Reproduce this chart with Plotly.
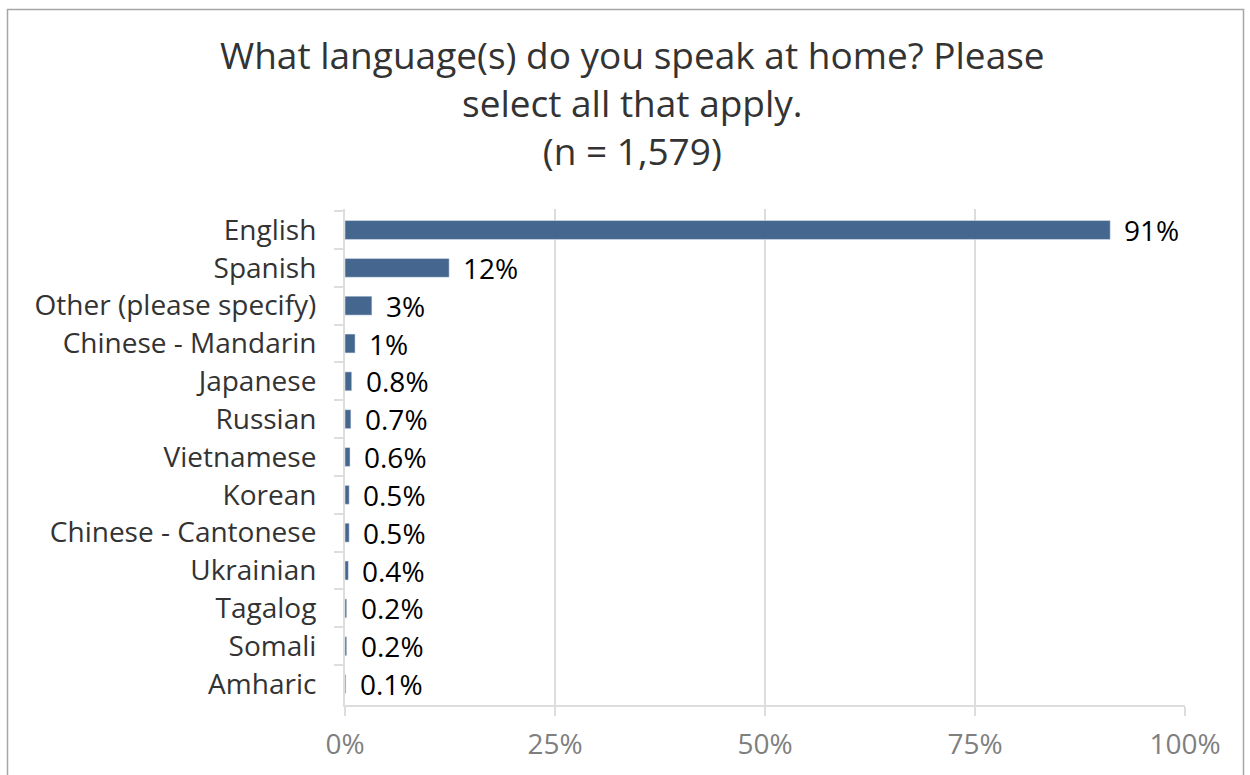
import plotly.graph_objects as go

# Survey results: languages spoken at home (multi-select, share of respondents)
languages = [
    "English", "Spanish", "Other (please specify)", "Chinese - Mandarin",
    "Japanese", "Russian", "Vietnamese", "Korean", "Chinese - Cantonese",
    "Ukrainian", "Tagalog", "Somali", "Amharic",
]
shares = [91.1, 12.4, 3.2, 1.2, 0.8, 0.7, 0.6, 0.5, 0.5, 0.4, 0.2, 0.2, 0.1]
x_ticks = [0, 25, 50, 75, 100]
x_tick_labels = ["0%", "25%", "50%", "75%", "100%"]

title_text = ("What language(s) do you speak at home? Please<br>"
              "select all that apply.<br>(n = 1,579)")

BAR = "#45678F"
GRID = "#DDDDDD"
FONT = "Open Sans"


def fmt(v):
    return f"{v:.0f}%" if v >= 1 else f"{v:.1f}%"


fig = go.Figure(
    go.Bar(
        x=shares,
        y=languages,
        orientation="h",
        marker=dict(color=BAR),
        width=0.5,
        hoverinfo="skip",
    )
)

# value labels just past the end of each bar
for lang, v in zip(languages, shares):
    fig.add_annotation(
        x=v, y=lang, text=fmt(v), showarrow=False,
        xanchor="left", yanchor="middle", xshift=12,
        font=dict(family=FONT, size=28, color="#000000"),
    )

L, R, T, B = 345, 65, 209, 70
W, H = 1250, 775
pw, ph = W - L - R, H - T - B

# chart title, three centred lines
fig.add_annotation(
    text=title_text, xref="paper", yref="paper",
    x=(632 - L) / pw, xanchor="center",
    y=(H - B - 27) / ph, yanchor="top",
    showarrow=False, align="center",
    font=dict(family=FONT, size=37, color="#333333"),
)

# outer chart border
fig.add_shape(
    type="rect", xref="paper", yref="paper",
    x0=(7.5 - L) / pw, x1=(1243.5 - L) / pw,
    y0=(H - B - 790) / ph, y1=(H - B - 9.5) / ph,
    line=dict(color="#A6A6A6", width=1.5), fillcolor="rgba(0,0,0,0)",
    layer="below",
)

fig.update_layout(
    width=W, height=H,
    margin=dict(l=L, r=R, t=T, b=B),
    paper_bgcolor="white", plot_bgcolor="white",
    showlegend=False,
    xaxis=dict(
        range=[0, 100], tickvals=x_ticks, ticktext=x_tick_labels,
        showgrid=True, gridcolor=GRID, gridwidth=2,
        showline=True, linecolor=GRID, linewidth=2,
        ticks="outside", ticklen=9, tickcolor=GRID, tickwidth=2,
        ticklabelstandoff=4,
        tickfont=dict(family=FONT, size=28, color="#7F7F7F"),
        zeroline=False, fixedrange=True,
    ),
    yaxis=dict(
        autorange="reversed", type="category",
        showline=True, linecolor=GRID, linewidth=2,
        ticks="outside", ticklen=9, tickcolor=GRID, tickwidth=2,
        tickson="boundaries", ticklabelstandoff=21,
        tickfont=dict(family=FONT, size=28, color="#333333"),
        showgrid=False, fixedrange=True,
    ),
)

fig.write_html("out.html")
